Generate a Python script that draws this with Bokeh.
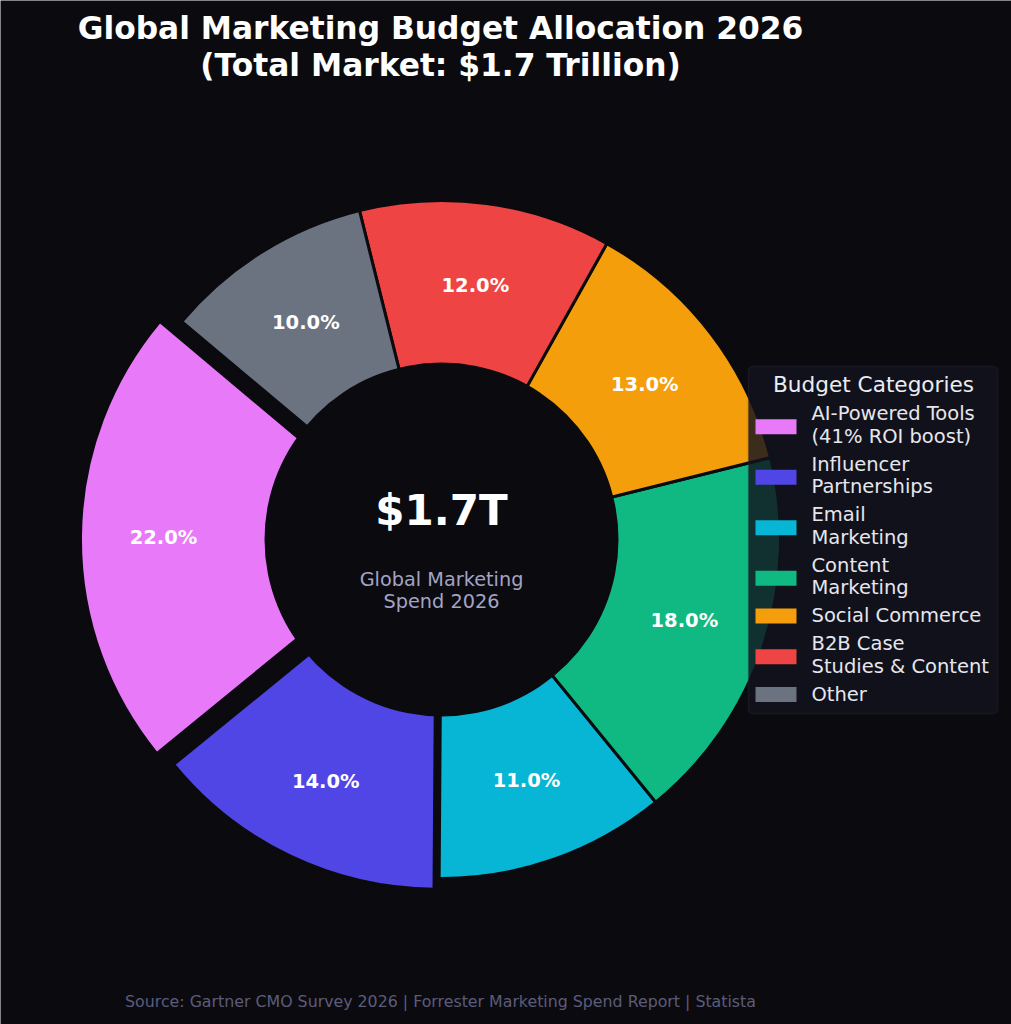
import numpy as np
from bokeh.plotting import figure
from bokeh.models import Range1d, BoxAnnotation
from bokeh.core.properties import value
from bokeh.embed import file_html
from bokeh.resources import INLINE

# ---------------- data ----------------
categories = [
    "AI-Powered Tools\n(41% ROI boost)",
    "Influencer\nPartnerships",
    "Email\nMarketing",
    "Content\nMarketing",
    "Social Commerce",
    "B2B Case\nStudies & Content",
    "Other",
]
shares = [22.0, 14.0, 11.0, 18.0, 13.0, 12.0, 10.0]
explode = [0.065, 0.035, 0.0, 0.0, 0.0, 0.0, 0.0]
colors = ["#e879f9", "#4f46e5", "#06b6d4", "#10b981", "#f59e0b", "#ef4444", "#6b7280"]

title_lines = ["Global Marketing Budget Allocation 2026", "(Total Market: $1.7 Trillion)"]
center_value = "$1.7T"
center_sub = ["Global Marketing", "Spend 2026"]
legend_title = "Budget Categories"
source_text = "Source: Gartner CMO Survey 2026 | Forrester Marketing Spend Report | Statista"

# ---------------- layout / style ----------------
W, H = 1011, 1024
BG = "#0b0b0f"
FONT = value("DejaVu Sans")
CX, CY_PX = 441, 539          # pie centre (pixels from top)
R = 339                        # outer radius in px
R_IN = 177                     # centre hole radius in px
START_DEG = 140.0
PCT_DIST = 0.755


def Y(py):
    return H - py


CY = Y(CY_PX)

p = figure(width=W, height=H, x_range=Range1d(0, W), y_range=Range1d(0, H),
           output_backend="svg", toolbar_location=None, min_border=0,
           x_axis_location=None, y_axis_location=None)
p.background_fill_color = BG
p.border_fill_color = BG
p.outline_line_color = None
p.xgrid.visible = False
p.ygrid.visible = False

vals = np.array(shares, dtype=float)
fr = vals / vals.sum()
cum = np.concatenate([[0.0], np.cumsum(fr)[:-1]])
start = np.deg2rad(START_DEG + 360.0 * cum)
end = np.deg2rad(START_DEG + 360.0 * (cum + fr))
mid = (start + end) / 2
ex = np.array(explode)
wx = CX + ex * R * np.cos(mid)
wy = CY + ex * R * np.sin(mid)

p.wedge(x=list(wx), y=list(wy), radius=R, start_angle=list(start), end_angle=list(end),
        fill_color=colors, line_color=BG, line_width=3, direction="anticlock")

# centre hole
p.circle(x=[CX], y=[CY], radius=R_IN, fill_color=BG, line_color=None)

# percentage labels
lx = wx + PCT_DIST * R * np.cos(mid)
ly = wy + PCT_DIST * R * np.sin(mid)
p.text(x=list(lx), y=list(ly), text=[f"{v:.1f}%" for v in vals],
       text_align="center", text_baseline="middle", text_color="white",
       text_font=FONT, text_font_style="bold", text_font_size="19.5px")

# centre texts
p.text(x=[CX], y=[Y(510)], text=[center_value], text_align="center", text_baseline="middle",
       text_color="white", text_font=FONT, text_font_style="bold", text_font_size="42px")
p.text(x=[CX, CX], y=[Y(579), Y(601)], text=center_sub, text_align="center",
       text_baseline="middle", text_color="#a3a3c4", text_font=FONT, text_font_size="19.3px")

# title
p.text(x=[440, 440], y=[Y(27), Y(64)], text=title_lines, text_align="center",
       text_baseline="middle", text_color="white", text_font=FONT,
       text_font_style="bold", text_font_size="31.3px")

# source
p.text(x=[440], y=[Y(1001)], text=[source_text], text_align="center", text_baseline="middle",
       text_color="#5c5c7a", text_font=FONT, text_font_size="15.8px")

# ---------------- legend ----------------
box = BoxAnnotation(left=748, right=997, top=Y(366), bottom=Y(713),
                    fill_color="#12121f", fill_alpha=0.82, line_color="#2e2e48",
                    line_width=1.5, border_radius=4)
p.add_layout(box)

lt = p.text(x=[873], y=[Y(384)], text=[legend_title], text_align="center",
            text_baseline="middle", text_color="#ececf2", text_font=FONT,
            text_font_size="21.6px")
lt.level = "overlay"

LINE_H = 22.5
STEP = 28.0
y0 = 413.0
tx, ty, tt = [], [], []
px, py = [], []
for cat in categories:
    lines = cat.split("\n")
    ys = [y0 + k * LINE_H for k in range(len(lines))]
    for ln, yy in zip(lines, ys):
        tx.append(811)
        ty.append(Y(yy))
        tt.append(ln)
    pc = sum(ys) / len(ys) + (2.0 if len(lines) > 1 else 0.5)
    px.append(775.5)
    py.append(Y(pc))
    y0 = ys[-1] + STEP

lp = p.rect(x=px, y=py, width=41, height=15, fill_color=colors, line_color=None)
lp.level = "overlay"
ltx = p.text(x=tx, y=ty, text=tt, text_align="left", text_baseline="middle",
             text_color="#e6e6ee", text_font=FONT, text_font_size="19.5px")
ltx.level = "overlay"

open("out.html", "w").write(file_html(p, INLINE))
